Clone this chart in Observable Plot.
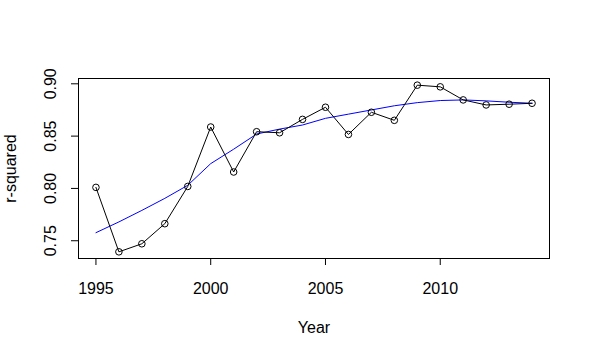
<!DOCTYPE html>
<html>
<head>
<meta charset="utf-8">
<script src="https://cdn.jsdelivr.net/npm/d3@7"></script>
<script src="https://cdn.jsdelivr.net/npm/@observablehq/plot@0.6"></script>
<style>
  html, body { margin: 0; padding: 0; background: #ffffff; }
  #chart svg { display: block; }
</style>
</head>
<body>
<div id="chart"></div>
<script>
const years = [1995, 1996, 1997, 1998, 1999, 2000, 2001, 2002, 2003, 2004, 2005, 2006, 2007, 2008, 2009, 2010, 2011, 2012, 2013, 2014];
const rsq = [0.801, 0.7394, 0.7471, 0.7663, 0.8019, 0.8587, 0.8157, 0.8542, 0.8532, 0.866, 0.8776, 0.8516, 0.8728, 0.8651, 0.8987, 0.8971, 0.8846, 0.8798, 0.8805, 0.8814];
const smooth = [0.7577, 0.768, 0.779, 0.7905, 0.803, 0.8237, 0.8375, 0.852, 0.8567, 0.8606, 0.867, 0.871, 0.875, 0.879, 0.882, 0.884, 0.8846, 0.8837, 0.8824, 0.8814];
const xTicks = [1995, 2000, 2005, 2010];
const yTicks = [0.75, 0.80, 0.85, 0.90];
const xLabel = "Year";
const yLabel = "r-squared";

const obs = years.map((year, i) => ({year, value: rsq[i]}));
const fit = years.map((year, i) => ({year, value: smooth[i]}));

function pad(arr) {
  const [lo, hi] = d3.extent(arr);
  const d = (hi - lo) * 0.04;
  return [lo - d, hi + d];
}

const chart = Plot.plot({
  width: 590,
  height: 356,
  marginLeft: 78,
  marginRight: 41,
  marginTop: 78,
  marginBottom: 98,
  style: {fontFamily: "'Liberation Sans', Arial, sans-serif", fontSize: "16px", color: "black", background: "white"},
  x: {domain: pad(years)},
  y: {domain: pad(rsq)},
  marks: [
    Plot.frame({stroke: "black", strokeWidth: 1}),
    Plot.axisX({ticks: xTicks, tickSize: 7, tickFormat: () => "", label: null, strokeWidth: 1}),
    Plot.axisY({ticks: yTicks, tickSize: 7, tickFormat: () => "", label: null, strokeWidth: 1}),
    Plot.text(xTicks, {x: d => d, frameAnchor: "bottom", dy: 35, lineAnchor: "bottom", text: d => String(d), fontSize: 16, fill: "black"}),
    Plot.text(yTicks, {y: d => d, frameAnchor: "left", dx: -23, rotate: -90, lineAnchor: "bottom", textAnchor: "middle", text: d => d.toFixed(2), fontSize: 16, fill: "black"}),
    Plot.text([xLabel], {frameAnchor: "bottom", dy: 74, lineAnchor: "bottom", text: d => d, fontSize: 16, fill: "black"}),
    Plot.text([yLabel], {frameAnchor: "left", dx: -63, rotate: -90, lineAnchor: "bottom", textAnchor: "middle", text: d => d, fontSize: 16, fill: "black"}),
    Plot.line(fit, {x: "year", y: "value", stroke: "#0000ff", strokeWidth: 1}),
    Plot.line(obs, {x: "year", y: "value", stroke: "black", strokeWidth: 1}),
    Plot.dot(obs, {x: "year", y: "value", r: 3.3, stroke: "black", fill: "white", fillOpacity: 0, strokeWidth: 1})
  ]
});
document.getElementById("chart").appendChild(chart);
</script>
</body>
</html>
